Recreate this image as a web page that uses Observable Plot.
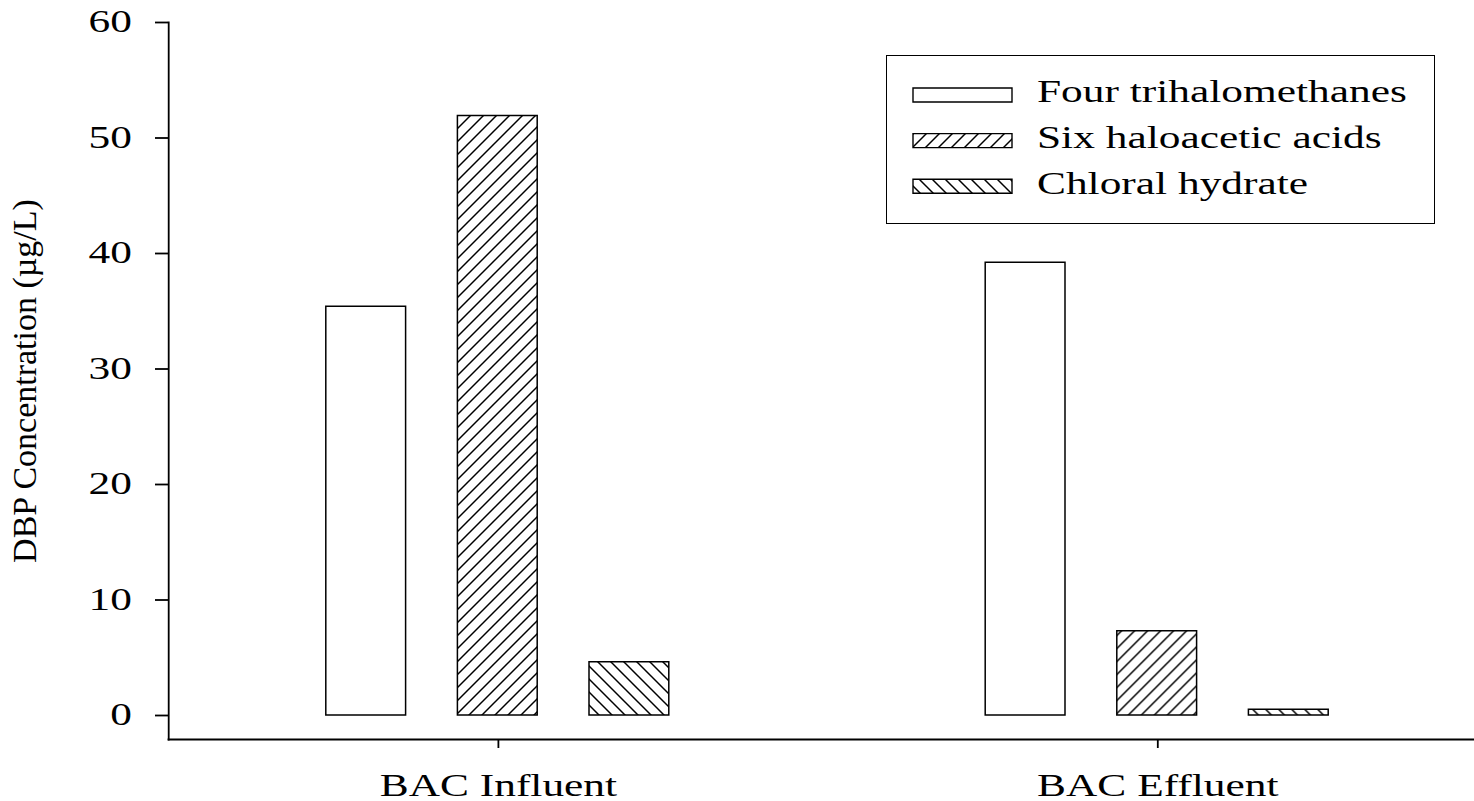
<!DOCTYPE html>
<html><head><meta charset="utf-8">
<script src="https://cdn.jsdelivr.net/npm/d3@7"></script>
<script src="https://cdn.jsdelivr.net/npm/@observablehq/plot@0.6"></script>
<style>
html,body{margin:0;padding:0;background:#fff;}
#wrap{position:relative;width:1474px;height:801px;overflow:hidden;background:#fff;}
#chart svg{display:block;}
#chart svg *, #legend svg *{vector-effect:non-scaling-stroke;}
#legend{position:absolute;left:886px;top:55px;width:549px;height:169px;box-sizing:border-box;border:1.6px solid #000;background:#fff;}
#legend svg{position:absolute;left:0;top:0;display:block;}
</style></head><body>
<div id="wrap"><div id="chart"></div><div id="legend"></div></div>
<svg width="0" height="0" style="position:absolute;left:0;top:0"><defs id="pdefs"></defs></svg>
<script>
// ---- data ----
const groups = ["BAC Influent", "BAC Effluent"];
const series = ["Four trihalomethanes", "Six haloacetic acids", "Chloral hydrate"];
const influent = [35.4, 51.9, 4.6];
const effluent = [39.2, 7.3, 0.5];
const yTicks = [0, 10, 20, 30, 40, 50, 60];
const yLabel = "DBP Concentration (µg/L)";

// ---- layout / style ----
const S = 1.4;                 // horizontal stretch seen in the reference
const W = 1474, H = 801, VW = W / S;
const FONT = "'Liberation Serif','Times New Roman',serif";

// hatch patterns (defined in virtual, stretched units)
const defs = d3.select("#pdefs");
function hatch(id, dir) {
  const w = 13 / S, h = 13;
  const p = defs.append("pattern").attr("id", id).attr("patternUnits", "userSpaceOnUse")
    .attr("width", w).attr("height", h);
  p.append("rect").attr("width", w).attr("height", h).attr("fill", "white");
  const d = dir > 0
    ? `M0,${h}L${w},0M${-w/2},${h/2}L${w/2},${-h/2}M${w/2},${3*h/2}L${3*w/2},${h/2}`
    : `M0,0L${w},${h}M${w/2},${-h/2}L${3*w/2},${h/2}M${-w/2},${h/2}L${w/2},${3*h/2}`;
  p.append("path").attr("d", d).attr("stroke", "black").attr("stroke-width", 1.2).attr("fill", "none");
}
hatch("hatchUp", 1);
hatch("hatchDown", -1);
const fills = ["white", "url(#hatchUp)", "url(#hatchDown)"];

const data = groups.flatMap((g, i) => series.map((s, j) => ({
  group: g, series: s, value: (i === 0 ? influent : effluent)[j]
})));

const chart = Plot.plot({
  width: VW, height: H,
  marginLeft: 167 / S, marginRight: VW - 1487 / S, marginTop: 22, marginBottom: 62,
  style: {fontFamily: FONT, fontSize: "31px", color: "black", background: "white"},
  fx: {domain: groups, padding: 0, label: null},
  x: {domain: series, paddingInner: 0.394, paddingOuter: 1.197, axis: null},
  y: {domain: [0, 60], range: [715, 22]},
  color: {domain: series, range: fills},
  marks: [
    Plot.barY(data, {fx: "group", x: "series", y: "value", fill: "series", stroke: "black", strokeWidth: 1.5}),
    // one continuous bottom axis line, drawn from the first panel across the whole width
    Plot.frame({anchor: "bottom", facetAnchor: "left", stroke: "black", strokeWidth: 2.2, insetRight: -480}),
    Plot.frame({anchor: "left", facetAnchor: "left", stroke: "black", strokeWidth: 1.8, strokeLinecap: "square"}),
    Plot.axisY({ticks: yTicks, tickFormat: d => String(d), tickSize: 9.3, tickPadding: 17,
      strokeWidth: 1.8, fontSize: 31, fill: "black",
      label: yLabel, labelAnchor: "center", labelArrow: false, labelOffset: 112}),
    Plot.axisFx({anchor: "bottom", tickSize: 9, tickPadding: 25, strokeWidth: 1.8, fontSize: 31,
      fill: "black", label: null})
  ]
});
chart.setAttribute("width", W);
chart.setAttribute("height", H);
chart.setAttribute("preserveAspectRatio", "none");
chart.style.maxWidth = "none";
chart.style.width = W + "px";
chart.style.height = H + "px";
// y label is not stretched in the reference: undo the stretch on it
chart.querySelectorAll("text").forEach(t => {
  if (t.textContent === yLabel) {
    t.setAttribute("font-size", 34);
    const tr = t.getAttribute("transform") || "";
    t.setAttribute("transform", tr + ` scale(1,${1 / S})`);
  }
});
document.getElementById("chart").appendChild(chart);

// ---- legend (boxed, inside plot area) ----
const LW = 549, LH = 169;
const lg = d3.select("#legend").append("svg")
  .attr("width", LW - 3.2).attr("height", LH - 3.2)
  .attr("viewBox", `0 0 ${(LW - 3.2) / S} ${LH - 3.2}`)
  .attr("preserveAspectRatio", "none");
const rowY = i => 39 + i * 45.6;
const color = d3.scaleOrdinal(series, fills);
series.forEach((s, i) => {
  lg.append("rect").attr("x", 26 / S).attr("y", rowY(i) - 7).attr("width", 99 / S).attr("height", 14)
    .attr("fill", color(s)).attr("stroke", "black").attr("stroke-width", 1.4);
  lg.append("text").attr("x", 150 / S).attr("y", rowY(i) + 7.5)
    .attr("font-family", FONT).attr("font-size", 31).attr("fill", "black").text(s);
});
</script>
</body></html>
